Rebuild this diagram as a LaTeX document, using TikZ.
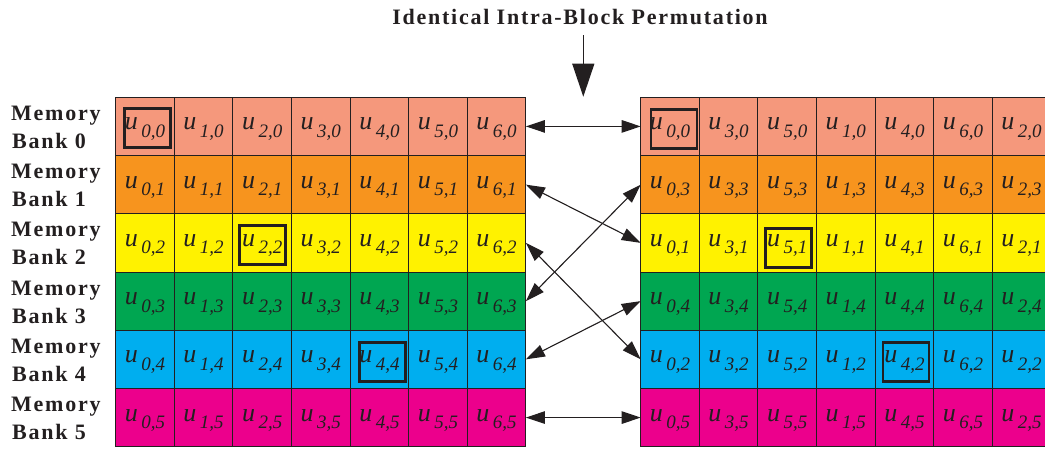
\documentclass[tikz,border=0pt]{standalone}
\usepackage{fontspec}
\setmainfont{Liberation Serif}
\usetikzlibrary{arrows.meta}
\definecolor{c0}{HTML}{F5987C}
\definecolor{c1}{HTML}{F7941E}
\definecolor{c2}{HTML}{FFF200}
\definecolor{c3}{HTML}{00A651}
\definecolor{c4}{HTML}{00AEEF}
\definecolor{c5}{HTML}{EC008C}
\definecolor{gridc}{HTML}{231F20}
\newcommand\uu[2]{{\fontsize{26}{26}\selectfont\itshape u}\kern3.5pt\raisebox{-7.5pt}{\fontsize{19}{19}\selectfont\itshape #1,#2}}
\begin{document}
\begin{tikzpicture}[x=1pt,y=-1pt,
  cell/.style={draw=gridc, line width=0.9pt, minimum width=58.6pt, minimum height=58.23pt, inner sep=0pt, outer sep=0pt, anchor=north west},
  ut/.style={anchor=base, inner sep=0pt, text=gridc},
  hl/.style={draw=gridc, line width=2.8pt, minimum width=46pt, minimum height=39pt, inner sep=0pt},
  lbl/.style={font=\fontsize{22}{22}\selectfont\bfseries\addfontfeature{LetterSpace=8}, anchor=base west, inner sep=0pt, text=gridc},
  ttl/.style={font=\fontsize{22}{22}\selectfont\bfseries\addfontfeature{LetterSpace=8}, anchor=base, inner sep=0pt, text=gridc},
  dbl/.style={{Triangle[length=19pt,width=12.5pt]}-{Triangle[length=19pt,width=12.5pt]}, line width=1.1pt, draw=gridc, fill=gridc},
]
\useasboundingbox (0,0) rectangle (1045,450);
\clip (0,0) rectangle (1045,450);
% left grid
\foreach \r in {0,...,5}{
  \foreach \c in {0,...,6}{
    \node[cell, fill=c\r] (L-\r-\c) at ({115.7+58.6*\c},{97.3+58.23*\r}) {};
    \node[ut] (uL-\r-\c) at ({115.7+58.6*\c+29.3},{97.3+58.23*\r+32.6}) {\uu{\c}{\r}};
  }
}
% right grid
\foreach \r/\j in {0/0,1/3,2/1,3/4,4/2,5/5}{
  \foreach \c/\i in {0/0,1/3,2/5,3/1,4/4,5/6,6/2}{
    \node[cell, fill=c\r] (R-\r-\c) at ({640.7+58.6*\c},{97.3+58.23*\r}) {};
    \node[ut] (uR-\r-\c) at ({640.7+58.6*\c+29.3},{97.3+58.23*\r+32.6}) {\uu{\i}{\j}};
  }
}
% highlight boxes
\node[hl] (hL0) at (147.8,128.3) {};
\node[hl] (hL2) at (262.8,245) {};
\node[hl] (hL4) at (382.5,361.7) {};
\node[hl] (hR0) at (674,128.7) {};
\node[hl] (hR2) at (788.8,247.8) {};
\node[hl] (hR4) at (906,361.7) {};
% bank labels
\foreach \r in {0,...,5}{
  \node[lbl] (m\r) at (11,{97.3+58.23*\r+29.1-6}) {Memory};
  \node[lbl] (b\r) at (12,{97.3+58.23*\r+29.1+22}) {Bank \r};
}
% title and arrow
\node[ttl] (title) at (580,24.5) {Identical Intra-Block Permutation};
\coordinate (atop) at (583.3,35);
\coordinate (atip) at (583.3,96.7);
\draw[-{Triangle[length=33pt,width=22pt]}, line width=1.2pt, draw=gridc, fill=gridc] (atop) -- (atip);
% permutation arrows
\draw[dbl] (L-0-6.east) -- (R-0-0.west);
\draw[dbl] (L-1-6.east) -- (R-2-0.west);
\draw[dbl] (L-2-6.east) -- (R-4-0.west);
\draw[dbl] (L-3-6.east) -- (R-1-0.west);
\draw[dbl] (L-4-6.east) -- (R-3-0.west);
\draw[dbl] (L-5-6.east) -- (R-5-0.west);
\end{tikzpicture}
\end{document}
